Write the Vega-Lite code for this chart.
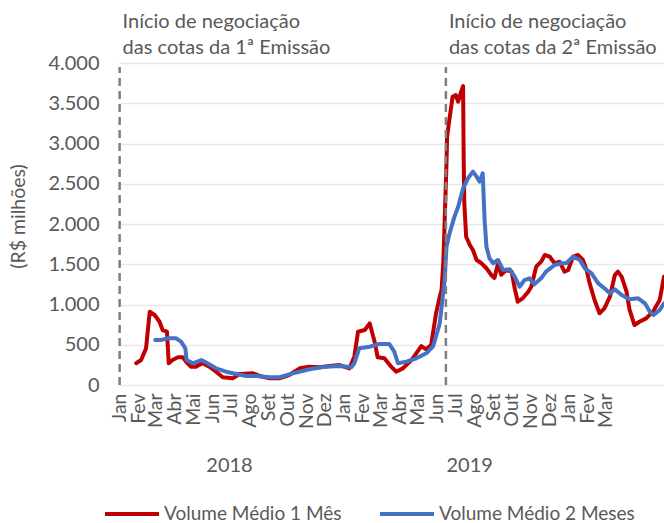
{
  "$schema": "https://vega.github.io/schema/vega-lite/v6.json",
  "width": 545,
  "height": 322,
  "autosize": {"type": "none"},
  "padding": {"left": 119, "top": 63, "right": 0, "bottom": 138},
  "config": {
    "view": {"stroke": null},
    "font": "Lato",
    "axis": {"labelColor": "#595959", "titleColor": "#595959", "labelFont": "Lato", "titleFont": "Lato"},
    "legend": {"labelFont": "Lato"}
  },
  "datasets": {
    "series": [
      {"data": "2018-01-28", "valor": 270, "serie": "Volume Médio 1 Mês"},
      {"data": "2018-02-05", "valor": 310, "serie": "Volume Médio 1 Mês"},
      {"data": "2018-02-13", "valor": 455, "serie": "Volume Médio 1 Mês"},
      {"data": "2018-02-19", "valor": 910, "serie": "Volume Médio 1 Mês"},
      {"data": "2018-02-27", "valor": 870, "serie": "Volume Médio 1 Mês"},
      {"data": "2018-03-07", "valor": 786, "serie": "Volume Médio 1 Mês"},
      {"data": "2018-03-12", "valor": 683, "serie": "Volume Médio 1 Mês"},
      {"data": "2018-03-19", "valor": 662, "serie": "Volume Médio 1 Mês"},
      {"data": "2018-03-22", "valor": 270, "serie": "Volume Médio 1 Mês"},
      {"data": "2018-03-28", "valor": 310, "serie": "Volume Médio 1 Mês"},
      {"data": "2018-04-06", "valor": 344, "serie": "Volume Médio 1 Mês"},
      {"data": "2018-04-14", "valor": 344, "serie": "Volume Médio 1 Mês"},
      {"data": "2018-04-19", "valor": 290, "serie": "Volume Médio 1 Mês"},
      {"data": "2018-04-27", "valor": 228, "serie": "Volume Médio 1 Mês"},
      {"data": "2018-05-05", "valor": 228, "serie": "Volume Médio 1 Mês"},
      {"data": "2018-05-16", "valor": 270, "serie": "Volume Médio 1 Mês"},
      {"data": "2018-05-27", "valor": 228, "serie": "Volume Médio 1 Mês"},
      {"data": "2018-06-07", "valor": 165, "serie": "Volume Médio 1 Mês"},
      {"data": "2018-06-18", "valor": 96, "serie": "Volume Médio 1 Mês"},
      {"data": "2018-07-04", "valor": 83, "serie": "Volume Médio 1 Mês"},
      {"data": "2018-07-15", "valor": 137, "serie": "Volume Médio 1 Mês"},
      {"data": "2018-08-06", "valor": 145, "serie": "Volume Médio 1 Mês"},
      {"data": "2018-08-17", "valor": 112, "serie": "Volume Médio 1 Mês"},
      {"data": "2018-09-02", "valor": 83, "serie": "Volume Médio 1 Mês"},
      {"data": "2018-09-18", "valor": 83, "serie": "Volume Médio 1 Mês"},
      {"data": "2018-10-04", "valor": 124, "serie": "Volume Médio 1 Mês"},
      {"data": "2018-10-21", "valor": 207, "serie": "Volume Médio 1 Mês"},
      {"data": "2018-11-06", "valor": 228, "serie": "Volume Médio 1 Mês"},
      {"data": "2018-11-22", "valor": 220, "serie": "Volume Médio 1 Mês"},
      {"data": "2018-12-09", "valor": 236, "serie": "Volume Médio 1 Mês"},
      {"data": "2018-12-25", "valor": 248, "serie": "Volume Médio 1 Mês"},
      {"data": "2019-01-10", "valor": 207, "serie": "Volume Médio 1 Mês"},
      {"data": "2019-01-18", "valor": 352, "serie": "Volume Médio 1 Mês"},
      {"data": "2019-01-24", "valor": 662, "serie": "Volume Médio 1 Mês"},
      {"data": "2019-02-04", "valor": 683, "serie": "Volume Médio 1 Mês"},
      {"data": "2019-02-12", "valor": 766, "serie": "Volume Médio 1 Mês"},
      {"data": "2019-02-20", "valor": 538, "serie": "Volume Médio 1 Mês"},
      {"data": "2019-02-25", "valor": 344, "serie": "Volume Médio 1 Mês"},
      {"data": "2019-03-08", "valor": 332, "serie": "Volume Médio 1 Mês"},
      {"data": "2019-03-19", "valor": 228, "serie": "Volume Médio 1 Mês"},
      {"data": "2019-03-27", "valor": 165, "serie": "Volume Médio 1 Mês"},
      {"data": "2019-04-07", "valor": 207, "serie": "Volume Médio 1 Mês"},
      {"data": "2019-04-21", "valor": 310, "serie": "Volume Médio 1 Mês"},
      {"data": "2019-05-07", "valor": 484, "serie": "Volume Médio 1 Mês"},
      {"data": "2019-05-15", "valor": 443, "serie": "Volume Médio 1 Mês"},
      {"data": "2019-05-23", "valor": 497, "serie": "Volume Médio 1 Mês"},
      {"data": "2019-05-31", "valor": 890, "serie": "Volume Médio 1 Mês"},
      {"data": "2019-06-06", "valor": 1097, "serie": "Volume Médio 1 Mês"},
      {"data": "2019-06-09", "valor": 1180, "serie": "Volume Médio 1 Mês"},
      {"data": "2019-06-12", "valor": 1553, "serie": "Volume Médio 1 Mês"},
      {"data": "2019-06-17", "valor": 2754, "serie": "Volume Médio 1 Mês"},
      {"data": "2019-06-18", "valor": 3085, "serie": "Volume Médio 1 Mês"},
      {"data": "2019-06-22", "valor": 3313, "serie": "Volume Médio 1 Mês"},
      {"data": "2019-06-27", "valor": 3582, "serie": "Volume Médio 1 Mês"},
      {"data": "2019-07-02", "valor": 3602, "serie": "Volume Médio 1 Mês"},
      {"data": "2019-07-06", "valor": 3519, "serie": "Volume Médio 1 Mês"},
      {"data": "2019-07-10", "valor": 3623, "serie": "Volume Médio 1 Mês"},
      {"data": "2019-07-14", "valor": 3714, "serie": "Volume Médio 1 Mês"},
      {"data": "2019-07-15", "valor": 2795, "serie": "Volume Médio 1 Mês"},
      {"data": "2019-07-16", "valor": 2257, "serie": "Volume Médio 1 Mês"},
      {"data": "2019-07-19", "valor": 1842, "serie": "Volume Médio 1 Mês"},
      {"data": "2019-07-25", "valor": 1739, "serie": "Volume Médio 1 Mês"},
      {"data": "2019-07-30", "valor": 1677, "serie": "Volume Médio 1 Mês"},
      {"data": "2019-08-05", "valor": 1553, "serie": "Volume Médio 1 Mês"},
      {"data": "2019-08-13", "valor": 1512, "serie": "Volume Médio 1 Mês"},
      {"data": "2019-08-21", "valor": 1450, "serie": "Volume Médio 1 Mês"},
      {"data": "2019-08-29", "valor": 1366, "serie": "Volume Médio 1 Mês"},
      {"data": "2019-09-03", "valor": 1330, "serie": "Volume Médio 1 Mês"},
      {"data": "2019-09-09", "valor": 1512, "serie": "Volume Médio 1 Mês"},
      {"data": "2019-09-14", "valor": 1370, "serie": "Volume Médio 1 Mês"},
      {"data": "2019-09-22", "valor": 1429, "serie": "Volume Médio 1 Mês"},
      {"data": "2019-10-01", "valor": 1408, "serie": "Volume Médio 1 Mês"},
      {"data": "2019-10-06", "valor": 1201, "serie": "Volume Médio 1 Mês"},
      {"data": "2019-10-11", "valor": 1035, "serie": "Volume Médio 1 Mês"},
      {"data": "2019-10-19", "valor": 1077, "serie": "Volume Médio 1 Mês"},
      {"data": "2019-10-28", "valor": 1159, "serie": "Volume Médio 1 Mês"},
      {"data": "2019-11-02", "valor": 1221, "serie": "Volume Médio 1 Mês"},
      {"data": "2019-11-10", "valor": 1470, "serie": "Volume Médio 1 Mês"},
      {"data": "2019-11-18", "valor": 1532, "serie": "Volume Médio 1 Mês"},
      {"data": "2019-11-24", "valor": 1615, "serie": "Volume Médio 1 Mês"},
      {"data": "2019-12-02", "valor": 1594, "serie": "Volume Médio 1 Mês"},
      {"data": "2019-12-10", "valor": 1512, "serie": "Volume Médio 1 Mês"},
      {"data": "2019-12-18", "valor": 1532, "serie": "Volume Médio 1 Mês"},
      {"data": "2019-12-26", "valor": 1408, "serie": "Volume Médio 1 Mês"},
      {"data": "2020-01-01", "valor": 1429, "serie": "Volume Médio 1 Mês"},
      {"data": "2020-01-09", "valor": 1594, "serie": "Volume Médio 1 Mês"},
      {"data": "2020-01-17", "valor": 1615, "serie": "Volume Médio 1 Mês"},
      {"data": "2020-01-25", "valor": 1553, "serie": "Volume Médio 1 Mês"},
      {"data": "2020-01-31", "valor": 1429, "serie": "Volume Médio 1 Mês"},
      {"data": "2020-02-05", "valor": 1263, "serie": "Volume Médio 1 Mês"},
      {"data": "2020-02-13", "valor": 1056, "serie": "Volume Médio 1 Mês"},
      {"data": "2020-02-21", "valor": 891, "serie": "Volume Médio 1 Mês"},
      {"data": "2020-02-29", "valor": 953, "serie": "Volume Médio 1 Mês"},
      {"data": "2020-03-09", "valor": 1097, "serie": "Volume Médio 1 Mês"},
      {"data": "2020-03-17", "valor": 1366, "serie": "Volume Médio 1 Mês"},
      {"data": "2020-03-22", "valor": 1408, "serie": "Volume Médio 1 Mês"},
      {"data": "2020-03-28", "valor": 1346, "serie": "Volume Médio 1 Mês"},
      {"data": "2020-04-05", "valor": 1159, "serie": "Volume Médio 1 Mês"},
      {"data": "2020-04-10", "valor": 932, "serie": "Volume Médio 1 Mês"},
      {"data": "2020-04-18", "valor": 745, "serie": "Volume Médio 1 Mês"},
      {"data": "2020-04-26", "valor": 786, "serie": "Volume Médio 1 Mês"},
      {"data": "2020-05-07", "valor": 828, "serie": "Volume Médio 1 Mês"},
      {"data": "2020-05-18", "valor": 911, "serie": "Volume Médio 1 Mês"},
      {"data": "2020-05-29", "valor": 1056, "serie": "Volume Médio 1 Mês"},
      {"data": "2020-06-05", "valor": 1346, "serie": "Volume Médio 1 Mês"},
      {"data": "2018-02-28", "valor": 560, "serie": "Volume Médio 2 Meses"},
      {"data": "2018-03-10", "valor": 560, "serie": "Volume Médio 2 Meses"},
      {"data": "2018-03-20", "valor": 580, "serie": "Volume Médio 2 Meses"},
      {"data": "2018-04-03", "valor": 580, "serie": "Volume Médio 2 Meses"},
      {"data": "2018-04-11", "valor": 538, "serie": "Volume Médio 2 Meses"},
      {"data": "2018-04-18", "valor": 456, "serie": "Volume Médio 2 Meses"},
      {"data": "2018-04-20", "valor": 310, "serie": "Volume Médio 2 Meses"},
      {"data": "2018-04-30", "valor": 270, "serie": "Volume Médio 2 Meses"},
      {"data": "2018-05-14", "valor": 310, "serie": "Volume Médio 2 Meses"},
      {"data": "2018-05-24", "valor": 270, "serie": "Volume Médio 2 Meses"},
      {"data": "2018-06-07", "valor": 207, "serie": "Volume Médio 2 Meses"},
      {"data": "2018-06-23", "valor": 165, "serie": "Volume Médio 2 Meses"},
      {"data": "2018-07-10", "valor": 137, "serie": "Volume Médio 2 Meses"},
      {"data": "2018-07-26", "valor": 112, "serie": "Volume Médio 2 Meses"},
      {"data": "2018-08-11", "valor": 112, "serie": "Volume Médio 2 Meses"},
      {"data": "2018-09-02", "valor": 96, "serie": "Volume Médio 2 Meses"},
      {"data": "2018-09-18", "valor": 96, "serie": "Volume Médio 2 Meses"},
      {"data": "2018-10-10", "valor": 145, "serie": "Volume Médio 2 Meses"},
      {"data": "2018-11-06", "valor": 195, "serie": "Volume Médio 2 Meses"},
      {"data": "2018-12-03", "valor": 228, "serie": "Volume Médio 2 Meses"},
      {"data": "2018-12-25", "valor": 236, "serie": "Volume Médio 2 Meses"},
      {"data": "2019-01-13", "valor": 220, "serie": "Volume Médio 2 Meses"},
      {"data": "2019-01-18", "valor": 270, "serie": "Volume Médio 2 Meses"},
      {"data": "2019-01-26", "valor": 456, "serie": "Volume Médio 2 Meses"},
      {"data": "2019-02-12", "valor": 476, "serie": "Volume Médio 2 Meses"},
      {"data": "2019-02-28", "valor": 509, "serie": "Volume Médio 2 Meses"},
      {"data": "2019-03-16", "valor": 509, "serie": "Volume Médio 2 Meses"},
      {"data": "2019-03-24", "valor": 414, "serie": "Volume Médio 2 Meses"},
      {"data": "2019-03-30", "valor": 270, "serie": "Volume Médio 2 Meses"},
      {"data": "2019-04-13", "valor": 290, "serie": "Volume Médio 2 Meses"},
      {"data": "2019-04-29", "valor": 332, "serie": "Volume Médio 2 Meses"},
      {"data": "2019-05-15", "valor": 394, "serie": "Volume Médio 2 Meses"},
      {"data": "2019-05-26", "valor": 476, "serie": "Volume Médio 2 Meses"},
      {"data": "2019-06-03", "valor": 683, "serie": "Volume Médio 2 Meses"},
      {"data": "2019-06-06", "valor": 766, "serie": "Volume Médio 2 Meses"},
      {"data": "2019-06-14", "valor": 1304, "serie": "Volume Médio 2 Meses"},
      {"data": "2019-06-17", "valor": 1718, "serie": "Volume Médio 2 Meses"},
      {"data": "2019-06-22", "valor": 1884, "serie": "Volume Médio 2 Meses"},
      {"data": "2019-06-30", "valor": 2091, "serie": "Volume Médio 2 Meses"},
      {"data": "2019-07-06", "valor": 2215, "serie": "Volume Médio 2 Meses"},
      {"data": "2019-07-14", "valor": 2443, "serie": "Volume Médio 2 Meses"},
      {"data": "2019-07-22", "valor": 2568, "serie": "Volume Médio 2 Meses"},
      {"data": "2019-07-30", "valor": 2650, "serie": "Volume Médio 2 Meses"},
      {"data": "2019-08-05", "valor": 2588, "serie": "Volume Médio 2 Meses"},
      {"data": "2019-08-10", "valor": 2526, "serie": "Volume Médio 2 Meses"},
      {"data": "2019-08-15", "valor": 2630, "serie": "Volume Médio 2 Meses"},
      {"data": "2019-08-18", "valor": 2050, "serie": "Volume Médio 2 Meses"},
      {"data": "2019-08-21", "valor": 1718, "serie": "Volume Médio 2 Meses"},
      {"data": "2019-08-26", "valor": 1574, "serie": "Volume Médio 2 Meses"},
      {"data": "2019-09-01", "valor": 1512, "serie": "Volume Médio 2 Meses"},
      {"data": "2019-09-09", "valor": 1553, "serie": "Volume Médio 2 Meses"},
      {"data": "2019-09-17", "valor": 1429, "serie": "Volume Médio 2 Meses"},
      {"data": "2019-09-28", "valor": 1437, "serie": "Volume Médio 2 Meses"},
      {"data": "2019-10-06", "valor": 1346, "serie": "Volume Médio 2 Meses"},
      {"data": "2019-10-14", "valor": 1221, "serie": "Volume Médio 2 Meses"},
      {"data": "2019-10-22", "valor": 1304, "serie": "Volume Médio 2 Meses"},
      {"data": "2019-10-30", "valor": 1325, "serie": "Volume Médio 2 Meses"},
      {"data": "2019-11-07", "valor": 1250, "serie": "Volume Médio 2 Meses"},
      {"data": "2019-11-18", "valor": 1325, "serie": "Volume Médio 2 Meses"},
      {"data": "2019-11-26", "valor": 1408, "serie": "Volume Médio 2 Meses"},
      {"data": "2019-12-10", "valor": 1491, "serie": "Volume Médio 2 Meses"},
      {"data": "2019-12-21", "valor": 1512, "serie": "Volume Médio 2 Meses"},
      {"data": "2019-12-29", "valor": 1512, "serie": "Volume Médio 2 Meses"},
      {"data": "2020-01-09", "valor": 1594, "serie": "Volume Médio 2 Meses"},
      {"data": "2020-01-20", "valor": 1553, "serie": "Volume Médio 2 Meses"},
      {"data": "2020-01-28", "valor": 1450, "serie": "Volume Médio 2 Meses"},
      {"data": "2020-02-08", "valor": 1388, "serie": "Volume Médio 2 Meses"},
      {"data": "2020-02-19", "valor": 1263, "serie": "Volume Médio 2 Meses"},
      {"data": "2020-02-29", "valor": 1201, "serie": "Volume Médio 2 Meses"},
      {"data": "2020-03-09", "valor": 1139, "serie": "Volume Médio 2 Meses"},
      {"data": "2020-03-17", "valor": 1188, "serie": "Volume Médio 2 Meses"},
      {"data": "2020-03-28", "valor": 1118, "serie": "Volume Médio 2 Meses"},
      {"data": "2020-04-10", "valor": 1065, "serie": "Volume Médio 2 Meses"},
      {"data": "2020-04-24", "valor": 1077, "serie": "Volume Médio 2 Meses"},
      {"data": "2020-05-05", "valor": 1015, "serie": "Volume Médio 2 Meses"},
      {"data": "2020-05-13", "valor": 911, "serie": "Volume Médio 2 Meses"},
      {"data": "2020-05-19", "valor": 870, "serie": "Volume Médio 2 Meses"},
      {"data": "2020-05-29", "valor": 932, "serie": "Volume Médio 2 Meses"},
      {"data": "2020-06-05", "valor": 1015, "serie": "Volume Médio 2 Meses"}
    ],
    "marcos": [
      {"data": "2018-01-01", "rotulo": ["Início de negociação", "das cotas da 1ª Emissão"]},
      {"data": "2019-06-16", "rotulo": ["Início de negociação", "das cotas da 2ª Emissão"]}
    ]
  },
  "layer": [
    {
      "data": {"name": "series"},
      "mark": {"type": "line", "strokeWidth": 4, "strokeJoin": "round", "strokeCap": "round"},
      "encoding": {
        "x": {
          "field": "data", "type": "temporal",
          "scale": {"domain": [{"year": 2017, "month": 12, "date": 31}, {"year": 2020, "month": 6, "date": 5}]},
          "axis": {
            "title": null, "grid": false, "domain": false, "ticks": false,
            "labelAngle": 270, "labelPadding": 8, "labelFontSize": 19.5, "labelFlush": false, "labelOverlap": false,
            "values": [
              {"year": 2018, "month": 1, "date": 1}, {"year": 2018, "month": 2, "date": 1}, {"year": 2018, "month": 3, "date": 1},
              {"year": 2018, "month": 4, "date": 1}, {"year": 2018, "month": 5, "date": 1}, {"year": 2018, "month": 6, "date": 1},
              {"year": 2018, "month": 7, "date": 1}, {"year": 2018, "month": 8, "date": 1}, {"year": 2018, "month": 9, "date": 1},
              {"year": 2018, "month": 10, "date": 1}, {"year": 2018, "month": 11, "date": 1}, {"year": 2018, "month": 12, "date": 1},
              {"year": 2019, "month": 1, "date": 1}, {"year": 2019, "month": 2, "date": 1}, {"year": 2019, "month": 3, "date": 1},
              {"year": 2019, "month": 4, "date": 1}, {"year": 2019, "month": 5, "date": 1}, {"year": 2019, "month": 6, "date": 1},
              {"year": 2019, "month": 7, "date": 1}, {"year": 2019, "month": 8, "date": 1}, {"year": 2019, "month": 9, "date": 1},
              {"year": 2019, "month": 10, "date": 1}, {"year": 2019, "month": 11, "date": 1}, {"year": 2019, "month": 12, "date": 1},
              {"year": 2020, "month": 1, "date": 1}, {"year": 2020, "month": 2, "date": 1}, {"year": 2020, "month": 3, "date": 1}
            ],
            "labelExpr": "['Jan','Fev','Mar','Abr','Mai','Jun','Jul','Ago','Set','Out','Nov','Dez'][month(datum.value)]"
          }
        },
        "y": {
          "field": "valor", "type": "quantitative",
          "scale": {"domain": [0, 4000], "nice": false, "zero": true},
          "axis": {
            "title": "(R$ milhões)", "titleFontSize": 19.5, "titleFontWeight": "normal",
            "titleX": -101, "titleY": 153, "titleAngle": 270, "titleAlign": "center", "titleBaseline": "middle",
            "values": [0, 500, 1000, 1500, 2000, 2500, 3000, 3500, 4000],
            "labelExpr": "replace(format(datum.value, ','), ',', '.')",
            "labelFontSize": 20, "labelPadding": 20, "domain": false, "ticks": false,
            "grid": true, "gridColor": "#E8E8E8", "gridWidth": 1.5
          }
        },
        "color": {
          "field": "serie", "type": "nominal",
          "scale": {"domain": ["Volume Médio 1 Mês", "Volume Médio 2 Meses"], "range": ["#C00000", "#4472C4"]},
          "legend": {
            "title": null, "orient": "none", "direction": "horizontal", "legendX": -16, "legendY": 422,
            "symbolType": "stroke", "symbolStrokeWidth": 4, "symbolSize": 2916, "labelFontSize": 19,
            "labelLimit": 400, "labelColor": "#595959", "labelOffset": 3, "columnPadding": 30, "padding": 0
          }
        }
      }
    },
    {
      "data": {"name": "marcos"},
      "mark": {"type": "rule", "strokeDash": [8, 5], "strokeWidth": 2.5, "color": "#7F7F7F"},
      "encoding": {
        "x": {
          "field": "data", "type": "temporal",
          "axis": {
            "orient": "bottom", "title": null, "grid": false, "domain": false, "ticks": false,
            "labelAngle": 0, "labelPadding": 70, "labelFontSize": 20, "labelFlush": false,
            "values": [{"year": 2018, "month": 6, "date": 28}, {"year": 2019, "month": 7, "date": 24}],
            "format": "%Y"
          }
        },
        "y": {"datum": 0},
        "y2": {"datum": 3950}
      }
    },
    {
      "data": {"name": "marcos"},
      "mark": {"type": "text", "align": "left", "baseline": "alphabetic", "dx": 3, "fontSize": 20, "color": "#595959", "lineHeight": 26, "font": "Lato"},
      "encoding": {
        "x": {"field": "data", "type": "temporal", "axis": null},
        "y": {"datum": 4435},
        "text": {"field": "rotulo"}
      }
    }
  ],
  "resolve": {"axis": {"x": "independent"}}
}
